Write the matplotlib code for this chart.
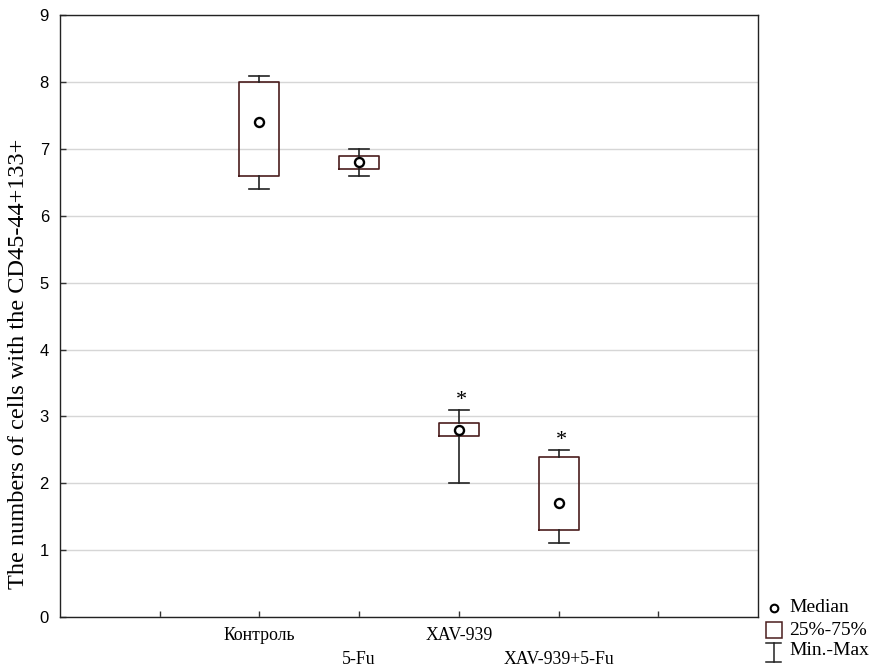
import numpy as np
import matplotlib
matplotlib.use("Agg")
import matplotlib.pyplot as plt
from matplotlib.lines import Line2D

# data
groups = ["Контроль", "5-Fu", "XAV-939", "XAV-939+5-Fu"]
positions = [2, 3, 4, 5]
whisk_lo = [6.4, 6.6, 2.0, 1.1]
q1 = [6.6, 6.7, 2.7, 1.3]
medians = [7.4, 6.8, 2.8, 1.7]
q3 = [8.0, 6.9, 2.9, 2.4]
whisk_hi = [8.1, 7.0, 3.1, 2.5]
signif = [False, False, True, True]

serif = "Liberation Serif"
sans = "Liberation Sans"

fig = plt.figure(figsize=(8.77, 6.67), dpi=100)
ax = fig.add_axes([0.0684, 0.075, 0.796, 0.902])

stats = []
for i, g in enumerate(groups):
    stats.append(dict(label=g, whislo=whisk_lo[i], q1=q1[i], med=medians[i],
                      q3=q3[i], whishi=whisk_hi[i], fliers=[]))

ax.bxp(stats, positions=positions, widths=0.4, capwidths=0.2,
       showfliers=False, manage_ticks=False,
       boxprops=dict(color="#4a1c1c", linewidth=1.2),
       whiskerprops=dict(color="#222222", linewidth=1.2),
       capprops=dict(color="#222222", linewidth=1.2),
       medianprops=dict(linewidth=0))

ax.plot(positions, medians, "o", markersize=6.5, markerfacecolor="white",
        markeredgecolor="black", markeredgewidth=1.7, zorder=5)

for i, s in enumerate(signif):
    if s:
        ax.text(positions[i] + 0.03, whisk_hi[i] + 0.14, "*", fontsize=16,
                family=serif, ha="center", va="center")

ax.set_xlim(0, 7)
ax.set_ylim(0, 9)
ax.set_yticks(range(0, 10))
ax.set_xticks([1, 2, 3, 4, 5, 6])
ax.set_xticklabels([])
ax.yaxis.grid(True, color="#d6d6d6", linewidth=1)
ax.set_axisbelow(True)
ax.tick_params(axis="both", direction="in", length=4, width=1, color="#333333")
ax.tick_params(axis="y", labelsize=12, pad=8)
for lab in ax.get_yticklabels():
    lab.set_family(sans)
for sp in ax.spines.values():
    sp.set_color("#222222")
    sp.set_linewidth(1)

# staggered category labels
for i, g in enumerate(groups):
    yoff = -0.28 if i % 2 == 0 else -0.63
    ax.text(positions[i], yoff, g, fontsize=12.8, family=serif,
            ha="center", va="center", clip_on=False)

ax.set_ylabel("The numbers of cells with the CD45-44+133+", fontsize=17.5,
              family=serif)
ax.yaxis.set_label_coords(-0.045, 0.42)

# legend drawn by hand at bottom right
lx, tx = 0.882, 0.900
fig.add_artist(Line2D([lx], [0.089], marker="o", markersize=5.5,
                      markerfacecolor="white", markeredgecolor="black",
                      markeredgewidth=1.5, transform=fig.transFigure))
fig.text(tx, 0.089, "Median", fontsize=14, family=serif, va="center")
fig.add_artist(Line2D([lx], [0.055], marker="s", markersize=12,
                      markerfacecolor="white", markeredgecolor="#4a1c1c",
                      markeredgewidth=1.1, transform=fig.transFigure))
fig.text(tx, 0.055, "25%-75%", fontsize=14, family=serif, va="center")
fig.add_artist(Line2D([lx, lx], [0.008, 0.036], color="#222222", lw=1.1,
                      transform=fig.transFigure))
fig.add_artist(Line2D([lx - 0.009, lx + 0.009], [0.036, 0.036], color="#222222",
                      lw=1.1, transform=fig.transFigure))
fig.add_artist(Line2D([lx - 0.009, lx + 0.009], [0.008, 0.008], color="#222222",
                      lw=1.1, transform=fig.transFigure))
fig.text(tx, 0.024, "Min.-Max", fontsize=14, family=serif, va="center")

fig.savefig("out.png", dpi=100)
